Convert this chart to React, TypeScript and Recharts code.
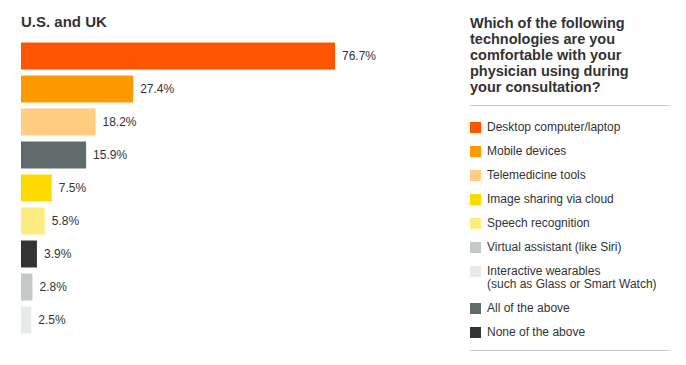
import { BarChart, Bar, XAxis, YAxis, Cell, LabelList } from "recharts";

// bars, in the order they are drawn (top to bottom)
const categories = [
  "Desktop computer/laptop",
  "Mobile devices",
  "Telemedicine tools",
  "All of the above",
  "Image sharing via cloud",
  "Speech recognition",
  "None of the above",
  "Virtual assistant (like Siri)",
  "Interactive wearables (such as Glass or Smart Watch)",
];
const values = [76.7, 27.4, 18.2, 15.9, 7.5, 5.8, 3.9, 2.8, 2.5];
const colors = [
  "#ff5500",
  "#ff9900",
  "#ffcc80",
  "#5f6b6b",
  "#ffda00",
  "#ffec80",
  "#333333",
  "#c4c8c8",
  "#e6ebe9",
];

// legend order on the right
const legendOrder = [0, 1, 2, 4, 5, 7, 8, 3, 6];
const legendLabels: Record<number, string[]> = {
  8: ["Interactive wearables", "(such as Glass or Smart Watch)"],
};

const questionLines = [
  "Which of the following",
  "technologies are you",
  "comfortable with your",
  "physician using during",
  "your consultation?",
];

const FONT = "Helvetica, Arial, 'Liberation Sans', sans-serif";
const TEXT = "#333333";

const data = categories.map((name, i) => ({ name, value: values[i] }));

export default function App() {
  return (
    <div
      style={{
        position: "absolute",
        left: 0,
        top: 0,
        width: 686,
        height: 365,
        background: "#fff",
        fontFamily: FONT,
        color: TEXT,
      }}
    >
      <div
        style={{
          position: "absolute",
          left: 21,
          top: 12,
          fontSize: 15,
          fontWeight: "bold",
          lineHeight: "20px",
        }}
      >
        U.S. and UK
      </div>

      <div style={{ position: "absolute", left: 0, top: 0 }}>
        <BarChart
          width={440}
          height={365}
          data={data}
          layout="vertical"
          margin={{ top: 39.5, right: 9.6, bottom: 28.5, left: 21 }}
        >
          <XAxis type="number" domain={[0, 100]} hide />
          <YAxis type="category" dataKey="name" hide />
          <Bar dataKey="value" barSize={27} isAnimationActive={false}>
            {data.map((d, i) => (
              <Cell key={`cell-${i}`} fill={colors[i]} />
            ))}
            <LabelList
              dataKey="value"
              position="right"
              offset={7}
              fill={TEXT}
              fontSize={12}
              fontFamily={FONT}
              formatter={(v: any) => `${Number(v).toFixed(1)}%`}
            />
          </Bar>
        </BarChart>
      </div>

      <div
        style={{
          position: "absolute",
          left: 470,
          top: 15,
          fontSize: 14.5,
          fontWeight: "bold",
          lineHeight: "16px",
          whiteSpace: "nowrap",
        }}
      >
        {questionLines.map((l) => (
          <div key={l}>{l}</div>
        ))}
      </div>

      <div
        style={{
          position: "absolute",
          left: 470,
          top: 104.5,
          width: 200,
          borderTop: "1px solid #cccccc",
        }}
      />

      <div
        style={{
          position: "absolute",
          left: 470,
          top: 120.5,
          fontSize: 12,
          lineHeight: "13px",
        }}
      >
        {legendOrder.map((idx) => (
          <div
            key={idx}
            style={{ display: "flex", alignItems: "flex-start", marginBottom: 11 }}
          >
            <div
              style={{
                width: 11,
                height: 11,
                marginTop: 1,
                background: colors[idx],
                flexShrink: 0,
              }}
            />
            <div style={{ marginLeft: 6, whiteSpace: "nowrap" }}>
              {(legendLabels[idx] || [categories[idx]]).map((l) => (
                <div key={l}>{l}</div>
              ))}
            </div>
          </div>
        ))}
      </div>

      <div
        style={{
          position: "absolute",
          left: 470,
          top: 349.5,
          width: 200,
          borderTop: "1px solid #cccccc",
        }}
      />
    </div>
  );
}
